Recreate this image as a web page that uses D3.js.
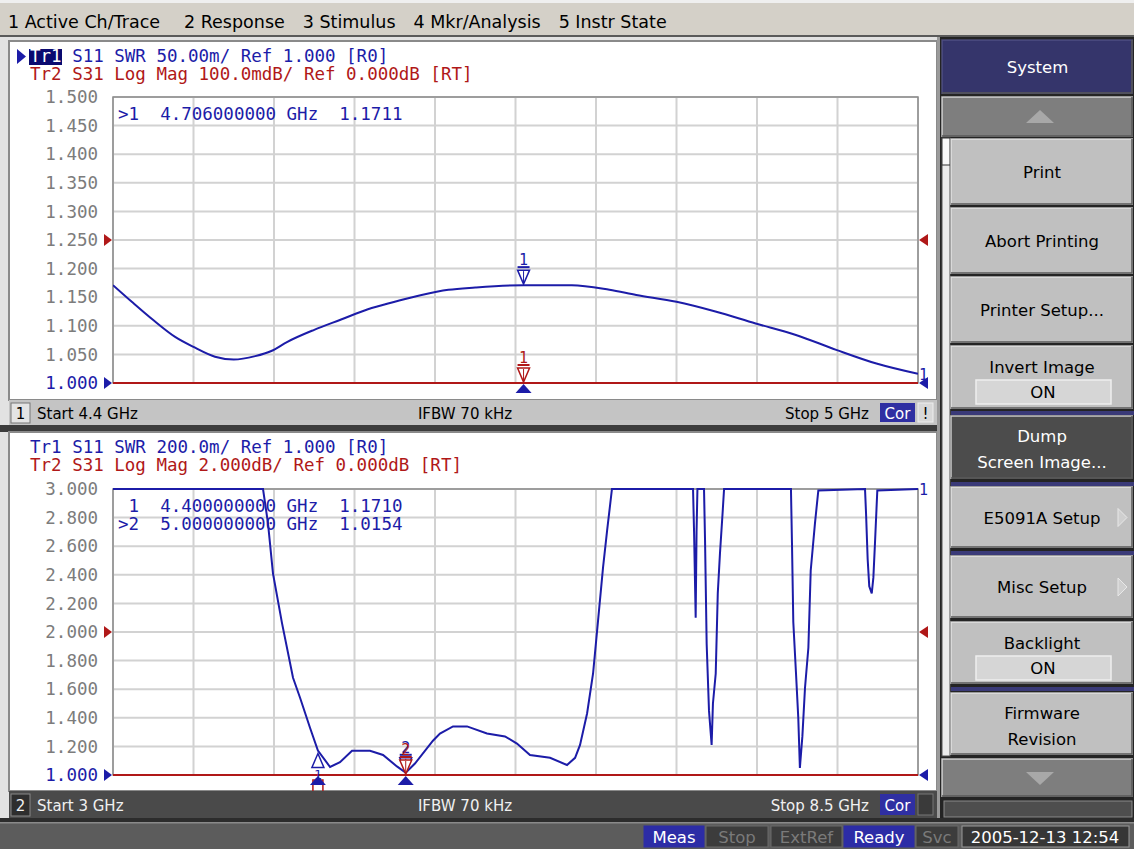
<!DOCTYPE html>
<html>
<head>
<meta charset="utf-8">
<script src="https://cdn.jsdelivr.net/npm/d3@7"></script>
<style>
  body { margin: 0; background: #d8d8d8; overflow: hidden; }
  svg { display: block; }
</style>
</head>
<body>
<script>
(function () {

// ---- Data ----
const menuItems = ["1 Active Ch/Trace", "2 Response", "3 Stimulus", "4 Mkr/Analysis", "5 Instr State"];

// Channel 1: S11 SWR, 4.4 - 5 GHz
const ch1Freq = [4.400, 4.414, 4.430, 4.446, 4.460, 4.476, 4.490, 4.506, 4.518, 4.530, 4.550, 4.570, 4.590,
                 4.610, 4.630, 4.650, 4.670, 4.706, 4.742, 4.770, 4.790, 4.820, 4.849, 4.879, 4.909, 4.939, 4.969, 5.000];
const ch1Swr  = [1.171, 1.142, 1.110, 1.081, 1.063, 1.046, 1.041, 1.047, 1.056, 1.072, 1.093, 1.111, 1.129,
                 1.142, 1.154, 1.163, 1.167, 1.1711, 1.171, 1.163, 1.154, 1.142, 1.125, 1.104, 1.084, 1.058, 1.034, 1.016];

// Channel 2: S11 SWR, 3 - 8.5 GHz (values above 3.000 are off screen)
const ch2Freq = [3.000, 4.025, 4.059, 4.093, 4.155, 4.230, 4.278, 4.346, 4.400, 4.483, 4.551, 4.633, 4.756, 4.845,
                 4.940, 5.000, 5.063, 5.186, 5.234, 5.323, 5.419, 5.555, 5.678, 5.760, 5.849, 5.986, 6.102, 6.157,
                 6.191, 6.239, 6.280, 6.314, 6.348, 6.376, 6.409,
                 6.963, 6.970, 6.981, 6.987, 6.993,
                 7.038, 7.045, 7.056, 7.072, 7.084, 7.090, 7.099, 7.118, 7.132, 7.147, 7.166, 7.175,
                 7.632, 7.639, 7.648, 7.666, 7.682, 7.693, 7.710, 7.728, 7.751, 7.767, 7.796, 7.819,
                 8.138, 8.145, 8.156, 8.167, 8.184, 8.195, 8.206, 8.222, 8.500];
const ch2Swr  = [3.00, 3.00, 2.76, 2.41, 2.06, 1.68, 1.54, 1.33, 1.171, 1.056, 1.09, 1.17, 1.17, 1.14,
                 1.06, 1.0154, 1.08, 1.24, 1.29, 1.34, 1.34, 1.29, 1.27, 1.22, 1.14, 1.12, 1.07, 1.12,
                 1.21, 1.43, 1.71, 2.08, 2.45, 2.71, 3.00,
                 3.00, 2.70, 2.10, 2.70, 3.00,
                 3.00, 2.64, 1.92, 1.45, 1.29, 1.21, 1.50, 1.71, 2.27, 2.55, 2.85, 3.00,
                 3.00, 2.62, 2.07, 1.72, 1.40, 1.05, 1.27, 1.61, 1.89, 2.43, 2.76, 2.99,
                 3.00, 2.83, 2.51, 2.32, 2.27, 2.38, 2.62, 2.99, 3.00];

// S31 Log Mag stays below the bottom of both screens
const s31Freq = [3.0, 8.5];
const s31Db   = [-10, -10];

const ch1Header = ["Tr1 S11 SWR 50.00m/ Ref 1.000 [R0]", "Tr2 S31 Log Mag 100.0mdB/ Ref 0.000dB [RT]"];
const ch2Header = ["Tr1 S11 SWR 200.0m/ Ref 1.000 [R0]", "Tr2 S31 Log Mag 2.000dB/ Ref 0.000dB [RT]"];

const ch1Markers = [{ id: 1, f: 4.706, v: 1.1711, active: true }];
const ch2Markers = [{ id: 1, f: 4.400, v: 1.1710, active: false },
                    { id: 2, f: 5.000, v: 1.0154, active: true }];

const chStart = [4.4, 3];
const chStop  = [5, 8.5];
const ifbw = "IFBW 70 kHz";

const softkeys = ["System", "", "Print", "Abort Printing", "Printer Setup...", "Invert Image|ON",
                  "Dump|Screen Image...", "E5091A Setup", "Misc Setup", "Backlight|ON", "Firmware|Revision", ""];
const statusItems = ["Meas", "Stop", "ExtRef", "Ready", "Svc"];
const statusOn = [true, false, false, true, false];
const dateText = "2005-12-13 12:54";

// ---- Setup ----
const W = 1134, H = 849;
const sans = "'DejaVu Sans', Verdana, sans-serif";
const mono = "'DejaVu Sans Mono', 'Liberation Mono', monospace";
const blue = "#1c1ca8", red = "#b01818";

const svg = d3.select("body").append("svg").attr("width", W).attr("height", H);
const defs = svg.append("defs");

svg.append("rect").attr("width", W).attr("height", H).attr("fill", "#d8d8d8");

// Menu bar
svg.append("rect").attr("width", W).attr("height", 36).attr("fill", "#d4d0c8");
svg.append("rect").attr("width", W).attr("height", 3).attr("fill", "#efefef");
svg.append("rect").attr("y", 35).attr("width", W).attr("height", 2).attr("fill", "#5a5a5a");
let mx = 8;
menuItems.forEach((t, i) => {
    const tx = svg.append("text")
        .attr("x", mx).attr("y", 28)
        .style("font-family", sans).style("font-size", "17.5px").attr("fill", "#000")
        .text(t);
    mx += tx.node().getComputedTextLength() + (i === 0 ? 24 : 18);
});

// Left column frame
svg.append("rect").attr("x", 0).attr("y", 37).attr("width", 939).attr("height", 785).attr("fill", "#e2e2e2");

// ---- Channels ----
function drawChannel(ch) {
    const g = svg.append("g");
    const pl = 113, pr = 918;

    g.append("rect").attr("x", 9).attr("y", ch.top).attr("width", 928).attr("height", ch.statusY - ch.top)
        .attr("fill", "#fff").attr("stroke", "#8a8a8a").attr("stroke-width", 2);

    const x = d3.scaleLinear().domain(ch.xDomain).range([pl, pr]);
    const y = d3.scaleLinear().domain(ch.yDomain).range([ch.plotBottom, ch.plotTop]).clamp(true);
    const yr = d3.scaleLinear().domain(ch.rDomain).range([ch.plotBottom, ch.plotTop]).clamp(true);

    // Grid
    const xDiv = d3.range(11).map(i => ch.xDomain[0] + i * (ch.xDomain[1] - ch.xDomain[0]) / 10);
    const yTicks = d3.range(11).map(i => ch.yDomain[0] + i * (ch.yDomain[1] - ch.yDomain[0]) / 10);
    g.append("g").selectAll("line").data(xDiv).enter().append("line")
        .attr("x1", d => x(d)).attr("x2", d => x(d))
        .attr("y1", ch.plotTop).attr("y2", ch.plotBottom)
        .attr("stroke", "#d2d2d2").attr("stroke-width", 2);
    g.append("g").selectAll("line").data(yTicks).enter().append("line")
        .attr("x1", pl).attr("x2", pr)
        .attr("y1", d => y(d)).attr("y2", d => y(d))
        .attr("stroke", "#d2d2d2").attr("stroke-width", 2);
    g.append("rect").attr("x", pl).attr("y", ch.plotTop).attr("width", pr - pl).attr("height", ch.plotBottom - ch.plotTop)
        .attr("fill", "none").attr("stroke", "#8c8c8c").attr("stroke-width", 1.5);

    // Y axis labels
    const axis = g.append("g").attr("transform", `translate(${pl},0)`)
        .call(d3.axisLeft(y).tickValues(yTicks).tickSize(0).tickPadding(15).tickFormat(d3.format(".3f")));
    axis.select(".domain").remove();
    axis.selectAll("text")
        .style("font-family", mono).style("font-size", "17.5px")
        .attr("fill", d => Math.abs(d - ch.yDomain[0]) < 1e-9 ? blue : "#7c7c7c");

    // Header (active trace name highlighted)
    if (ch.active) {
        g.append("path").attr("d", `M17,${ch.top + 8}L26,${ch.top + 15.5}L17,${ch.top + 23}Z`).attr("fill", blue);
        g.append("rect").attr("x", 29).attr("y", ch.top + 8).attr("width", 33).attr("height", 16).attr("fill", "#0a0a70");
    }
    const h1 = g.append("text").attr("x", 30).attr("y", ch.top + 21).attr("xml:space", "preserve")
        .style("font-family", mono).style("font-size", "17.5px");
    h1.append("tspan").attr("fill", ch.active ? "#fff" : blue).text(ch.header[0].slice(0, 3));
    h1.append("tspan").attr("fill", blue).text(ch.header[0].slice(3));
    g.append("text").attr("x", 30).attr("y", ch.top + 39).attr("xml:space", "preserve")
        .style("font-family", mono).style("font-size", "17.5px").attr("fill", red).text(ch.header[1]);

    // Traces (clipped to plot)
    const clipId = "clip" + ch.num;
    defs.append("clipPath").attr("id", clipId).append("rect")
        .attr("x", pl).attr("y", ch.plotTop - 2).attr("width", pr - pl).attr("height", ch.plotBottom - ch.plotTop + 4);
    const tg = g.append("g").attr("clip-path", `url(#${clipId})`);

    const s31 = s31Freq.map((f, i) => ({ f, v: s31Db[i] }));
    tg.append("path").datum(s31)
        .attr("d", d3.line().x(d => x(d.f)).y(d => yr(d.v)))
        .attr("fill", "none").attr("stroke", red).attr("stroke-width", 2);

    const swr = ch.freq.map((f, i) => ({ f, v: ch.swr[i] }));
    tg.append("path").datum(swr)
        .attr("d", d3.line().curve(ch.curve).x(d => x(d.f)).y(d => y(d.v)))
        .attr("fill", "none").attr("stroke", blue).attr("stroke-width", 2);

    // Reference triangles
    const refs = [{ yy: y(ch.yDomain[0]), c: blue }, { yy: yr(0), c: red }];
    refs.forEach(r => {
        g.append("path").attr("d", `M104,${r.yy - 6}L112,${r.yy}L104,${r.yy + 6}Z`).attr("fill", r.c);
        g.append("path").attr("d", `M928,${r.yy - 6}L919,${r.yy}L928,${r.yy + 6}Z`).attr("fill", r.c);
    });

    // Trace end number
    const last = swr[swr.length - 1];
    g.append("text").attr("x", 919).attr("y", y(last.v) + 6)
        .style("font-family", mono).style("font-size", "15px").attr("fill", blue).text("1");

    // Markers
    ch.markers.forEach(m => {
        const mxp = x(m.f), myp = y(m.v), ryp = yr(-10);
        if (m.active) {
            [{ yy: myp, c: blue }, { yy: ryp, c: red }].forEach(s => {
                g.append("path").attr("d", `M${mxp - 6},${s.yy - 15}L${mxp + 6},${s.yy - 15}L${mxp},${s.yy - 1}Z`)
                    .attr("fill", "#fff").attr("stroke", s.c).attr("stroke-width", 1.5);
                g.append("path").attr("d", `M${mxp},${s.yy - 14}V${s.yy - 3}`).attr("stroke", s.c).attr("stroke-width", 1);
                g.append("path").attr("d", `M${mxp - 6},${s.yy - 18}H${mxp + 6}`).attr("stroke", s.c).attr("stroke-width", 2);
                g.append("text").attr("x", mxp).attr("y", s.yy - 20).attr("text-anchor", "middle")
                    .style("font-family", mono).style("font-size", "15px").attr("fill", s.c).text(m.id);
            });
        } else {
            g.append("path").attr("d", `M${mxp},${myp + 3}L${mxp + 6},${myp + 17}L${mxp - 6},${myp + 17}Z`)
                .attr("fill", "#fff").attr("stroke", blue).attr("stroke-width", 1.5);
            g.append("text").attr("x", mxp).attr("y", myp + 28).attr("text-anchor", "middle")
                .style("font-family", mono).style("font-size", "13px").attr("fill", blue).text(m.id);
            g.append("rect").attr("x", mxp - 5).attr("y", ryp + 5).attr("width", 10).attr("height", 12)
                .attr("fill", "none").attr("stroke", red).attr("stroke-width", 1.5);
        }
        g.append("path").attr("d", `M${mxp - 8},${ch.plotBottom + 10}L${mxp + 8},${ch.plotBottom + 10}L${mxp},${ch.plotBottom + 1}Z`)
            .attr("fill", blue);
    });

    // Marker readout
    ch.markers.forEach((m, i) => {
        const line = `${m.active ? ">" : " "}${m.id}  ${m.f.toFixed(9)} GHz  ${m.v.toFixed(4)}`;
        g.append("text").attr("x", 118).attr("y", ch.plotTop + 23 + i * 18).attr("xml:space", "preserve")
            .style("font-family", mono).style("font-size", "17.5px").attr("fill", blue).text(line);
    });

    // Status bar
    const sy = ch.statusY, sh = ch.statusH;
    const bg = ch.active ? "#c4c4c4" : "#4a4a4a";
    const fg = ch.active ? "#000" : "#f0f0f0";
    g.append("rect").attr("x", 9).attr("y", sy).attr("width", 928).attr("height", sh).attr("fill", bg);
    g.append("rect").attr("x", 11).attr("y", sy + 3).attr("width", 19).attr("height", sh - 5)
        .attr("fill", ch.active ? "#e4e4e4" : "#2e2e2e").attr("stroke", ch.active ? "#777" : "#888");
    g.append("text").attr("x", 20.5).attr("y", sy + sh / 2 + 6).attr("text-anchor", "middle")
        .style("font-family", sans).style("font-size", "15px").attr("fill", fg).text(ch.num);
    g.append("text").attr("x", 37).attr("y", sy + sh / 2 + 6)
        .style("font-family", sans).style("font-size", "15px").attr("fill", fg).text(`Start ${ch.xDomain[0]} GHz`);
    g.append("text").attr("x", 465).attr("y", sy + sh / 2 + 6).attr("text-anchor", "middle")
        .style("font-family", sans).style("font-size", "15px").attr("fill", fg).text(ifbw);
    g.append("text").attr("x", 869).attr("y", sy + sh / 2 + 6).attr("text-anchor", "end")
        .style("font-family", sans).style("font-size", "15px").attr("fill", fg).text(`Stop ${ch.xDomain[1]} GHz`);
    g.append("rect").attr("x", 880).attr("y", sy + 3).attr("width", 35).attr("height", sh - 6).attr("fill", "#2f2fa2");
    g.append("text").attr("x", 897.5).attr("y", sy + sh / 2 + 6).attr("text-anchor", "middle")
        .style("font-family", sans).style("font-size", "15px").attr("fill", "#fff").text("Cor");
    g.append("rect").attr("x", 918).attr("y", sy + 3).attr("width", 15).attr("height", sh - 6)
        .attr("fill", ch.active ? "#d8d8d8" : "#3a3a3a").attr("stroke", ch.active ? "#eee" : "#777");
    if (ch.active) {
        g.append("text").attr("x", 925.5).attr("y", sy + sh / 2 + 6).attr("text-anchor", "middle")
            .style("font-family", sans).style("font-size", "15px").attr("fill", "#000").text("!");
    }
}

drawChannel({
    num: 1, active: true, top: 41, plotTop: 97, plotBottom: 383, statusY: 400, statusH: 25,
    xDomain: [chStart[0], chStop[0]], yDomain: [1.0, 1.5], rDomain: [-0.5, 0.5],
    freq: ch1Freq, swr: ch1Swr, header: ch1Header, markers: ch1Markers, curve: d3.curveMonotoneX
});

svg.append("rect").attr("x", 0).attr("y", 425).attr("width", 939).attr("height", 7).attr("fill", "#3c3c3c");

drawChannel({
    num: 2, active: false, top: 432, plotTop: 489, plotBottom: 775, statusY: 791, statusH: 27,
    xDomain: [chStart[1], chStop[1]], yDomain: [1.0, 3.0], rDomain: [-10, 10],
    freq: ch2Freq, swr: ch2Swr, header: ch2Header, markers: ch2Markers, curve: d3.curveLinear
});

// ---- Softkey panel ----
const sk = svg.append("g");
sk.append("rect").attr("x", 937).attr("y", 37).attr("width", W - 937).attr("height", 785).attr("fill", "#242424");
sk.append("rect").attr("x", 937).attr("y", 37).attr("width", 3).attr("height", 785).attr("fill", "#9a9a9a");
// scroll strip
sk.append("rect").attr("x", 942).attr("y", 138).attr("width", 8).attr("height", 618).attr("fill", "#ececec").attr("stroke", "#555");
sk.append("rect").attr("x", 942).attr("y", 138).attr("width", 8).attr("height", 27).attr("fill", "#f8f8f8").attr("stroke", "#333");

const keyLayout = [
    { y0: 40, y1: 94, x0: 942, kind: "title" },
    { y0: 97, y1: 137, x0: 942, kind: "up" },
    { y0: 139, y1: 205, x0: 951 },
    { y0: 208, y1: 274, x0: 951 },
    { y0: 277, y1: 343, x0: 951 },
    { y0: 346, y1: 409, x0: 951 },
    { y0: 416, y1: 479, x0: 951, kind: "dark" },
    { y0: 487, y1: 548, x0: 951, arrow: true },
    { y0: 556, y1: 618, x0: 951, arrow: true },
    { y0: 622, y1: 684, x0: 951 },
    { y0: 693, y1: 755, x0: 951 },
    { y0: 759, y1: 797, x0: 942, kind: "down" }
];
// group separators (blue)
[411, 482, 551, 687].forEach(yy => {
    sk.append("rect").attr("x", 951).attr("y", yy).attr("width", W - 951).attr("height", 4).attr("fill", "#3a3a78");
});

softkeys.forEach((label, i) => {
    const L = keyLayout[i];
    const x0 = L.x0, x1 = 1133, cx = (x0 + x1) / 2;
    let fill = "#c0c0c0", tc = "#000";
    if (L.kind === "title") { fill = "#35356b"; tc = "#fff"; }
    if (L.kind === "up" || L.kind === "down") fill = "#7e7e7e";
    if (L.kind === "dark") { fill = "#4c4c4c"; tc = "#fff"; }
    sk.append("rect").attr("x", x0).attr("y", L.y0).attr("width", x1 - x0).attr("height", L.y1 - L.y0).attr("fill", fill);
    // bevel
    sk.append("path").attr("d", `M${x0},${L.y1}V${L.y0}H${x1}`).attr("fill", "none")
        .attr("stroke", L.kind === "title" ? "#55558a" : "#e8e8e8").attr("stroke-width", 1.5).attr("opacity", 0.8);
    sk.append("path").attr("d", `M${x0},${L.y1 - 1}H${x1 - 1}V${L.y0}`).attr("fill", "none")
        .attr("stroke", "#5a5a5a").attr("stroke-width", 1.5);

    if (L.kind === "up") {
        const my = (L.y0 + L.y1) / 2;
        sk.append("path").attr("d", `M1026,${my + 6}L1054,${my + 6}L1040,${my - 7}Z`).attr("fill", "#a8a8a8");
    }
    if (L.kind === "down") {
        const my = (L.y0 + L.y1) / 2;
        sk.append("path").attr("d", `M1026,${my - 6}L1054,${my - 6}L1040,${my + 7}Z`).attr("fill", "#a8a8a8");
    }
    if (!label) return;
    const parts = label.split("|");
    const isToggle = parts[1] === "ON";
    if (parts.length === 1) {
        sk.append("text").attr("x", cx).attr("y", (L.y0 + L.y1) / 2 + 6).attr("text-anchor", "middle")
            .style("font-family", sans).style("font-size", "16.5px").attr("fill", tc).text(parts[0]);
    } else if (isToggle) {
        sk.append("text").attr("x", cx).attr("y", L.y0 + 27).attr("text-anchor", "middle")
            .style("font-family", sans).style("font-size", "16.5px").attr("fill", tc).text(parts[0]);
        sk.append("rect").attr("x", 976).attr("y", L.y0 + 34).attr("width", 135).attr("height", 24)
            .attr("fill", "#d6d6d6").attr("stroke", "#eeeeee").attr("stroke-width", 1.5);
        sk.append("text").attr("x", 1043).attr("y", L.y0 + 52).attr("text-anchor", "middle")
            .style("font-family", sans).style("font-size", "16.5px").attr("fill", tc).text(parts[1]);
    } else {
        sk.append("text").attr("x", cx).attr("y", L.y0 + 26).attr("text-anchor", "middle")
            .style("font-family", sans).style("font-size", "16.5px").attr("fill", tc).text(parts[0]);
        sk.append("text").attr("x", cx).attr("y", L.y0 + 52).attr("text-anchor", "middle")
            .style("font-family", sans).style("font-size", "16.5px").attr("fill", tc).text(parts[1]);
    }
    if (L.arrow) {
        const my = (L.y0 + L.y1) / 2;
        sk.append("path").attr("d", `M1118,${my - 9}L1127,${my}L1118,${my + 9}Z`)
            .attr("fill", "#cfcfcf").attr("stroke", "#e8e8e8");
    }
});
// blank bar under down button
sk.append("rect").attr("x", 944).attr("y", 801).attr("width", 188).attr("height", 16)
    .attr("fill", "#4e4e4e").attr("stroke", "#8a8a8a");

// ---- Bottom status bar ----
const bb = svg.append("g");
bb.append("rect").attr("x", 0).attr("y", 818).attr("width", W).attr("height", 4).attr("fill", "#2c2c2c");
bb.append("rect").attr("x", 0).attr("y", 822).attr("width", W).attr("height", H - 822).attr("fill", "#5c5c5c");
bb.append("rect").attr("x", 0).attr("y", 822).attr("width", W).attr("height", 1.5).attr("fill", "#8a8a8a");
const boxX = [644, 706, 771, 844, 916];
const boxW = [60, 62, 71, 70, 42];
statusItems.forEach((t, i) => {
    bb.append("rect").attr("x", boxX[i]).attr("y", 826).attr("width", boxW[i]).attr("height", 21)
        .attr("fill", statusOn[i] ? "#2c2ca6" : "#3c3c3c").attr("stroke", statusOn[i] ? "#2c2ca6" : "#6a6a6a");
    bb.append("text").attr("x", boxX[i] + boxW[i] / 2).attr("y", 843).attr("text-anchor", "middle")
        .style("font-family", sans).style("font-size", "16.5px")
        .attr("fill", statusOn[i] ? "#fff" : "#7a7a7a").text(t);
});
bb.append("rect").attr("x", 962).attr("y", 826).attr("width", 167).attr("height", 21)
    .attr("fill", "#363636").attr("stroke", "#9a9a9a");
bb.append("text").attr("x", 1045).attr("y", 843).attr("text-anchor", "middle")
    .style("font-family", sans).style("font-size", "16.5px").attr("fill", "#fff").text(dateText);

})();
</script>
</body>
</html>
